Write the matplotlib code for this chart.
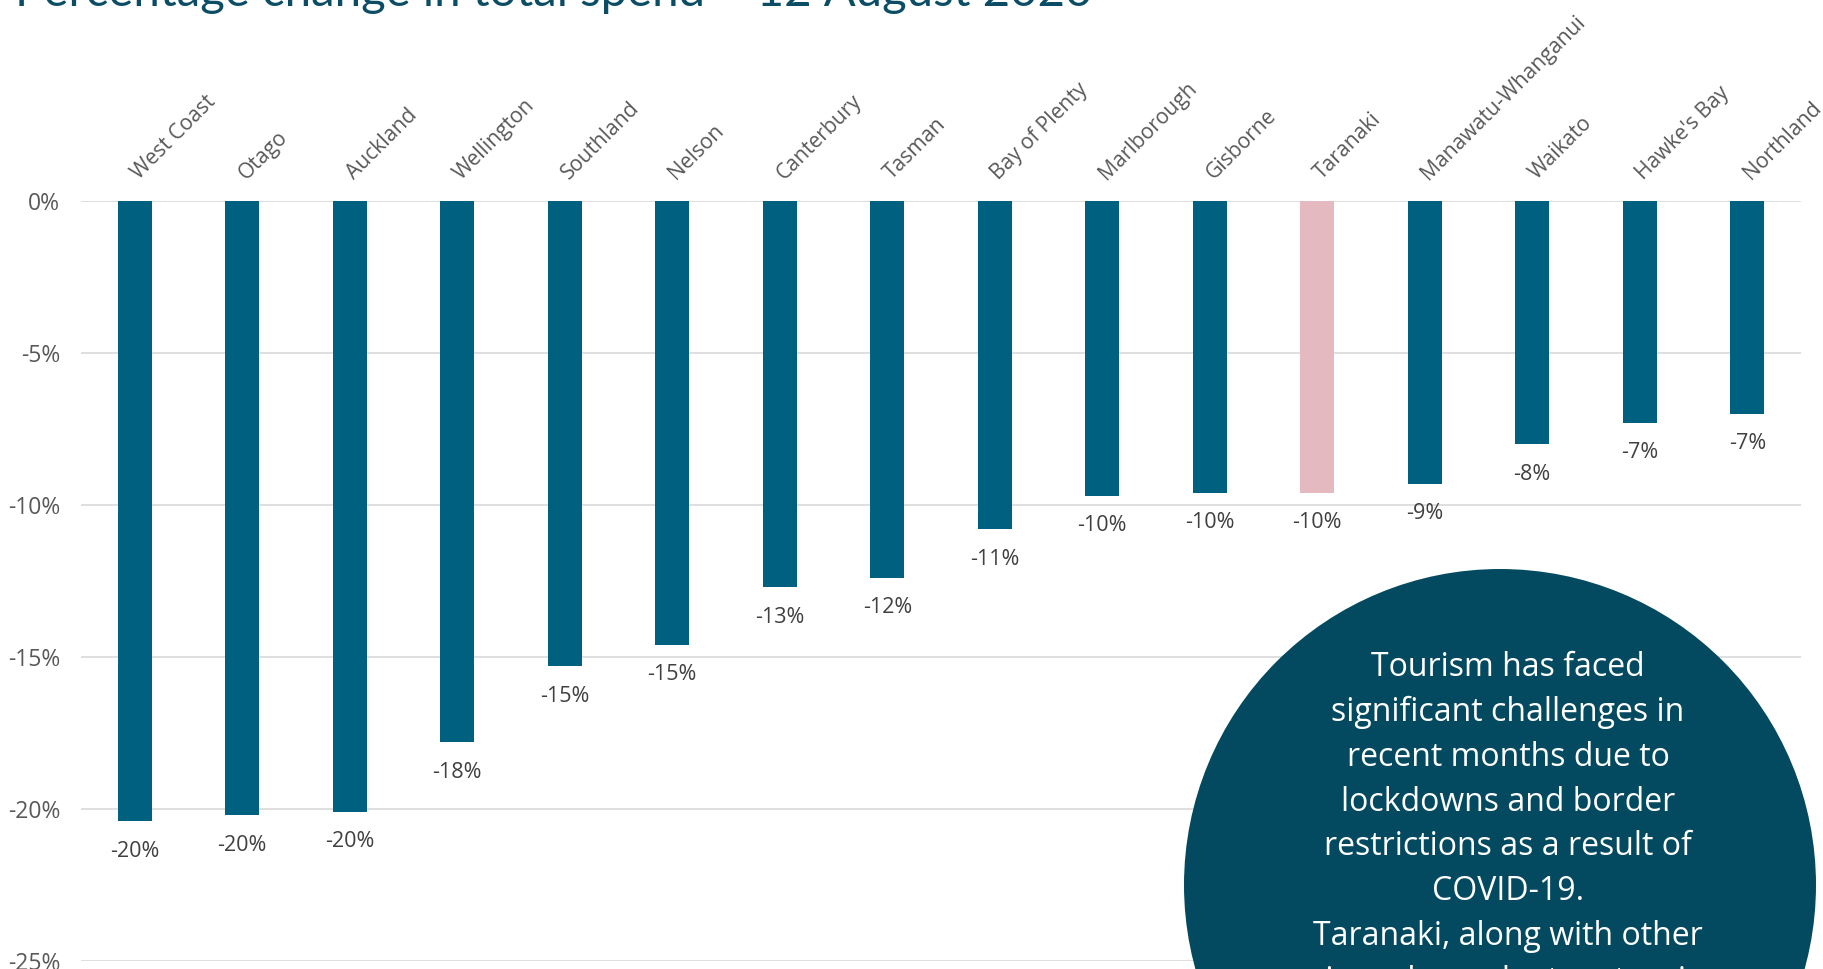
import matplotlib.pyplot as plt
from matplotlib.patches import Ellipse
import numpy as np

regions = ["West Coast", "Otago", "Auckland", "Wellington", "Southland", "Nelson",
           "Canterbury", "Tasman", "Bay of Plenty", "Marlborough", "Gisborne",
           "Taranaki", "Manawatu-Whanganui", "Waikato", "Hawke's Bay", "Northland"]
pct_change = [-20.4, -20.2, -20.1, -17.8, -15.3, -14.6, -12.7, -12.4, -10.8,
              -9.7, -9.6, -9.6, -9.3, -8.0, -7.3, -7.0]
highlight = "Taranaki"
yticks = [0, -5, -10, -15, -20, -25]

note = ("Tourism has faced\n"
        "significant challenges in\n"
        "recent months due to\n"
        "lockdowns and border\n"
        "restrictions as a result of\n"
        "COVID-19.\n"
        "Taranaki, along with other\n"
        "regions dependent on tourism,")

BAR = "#00607f"
PINK = "#e4b9bf"
DARK = "#034a60"

W, H = 1823, 969
fig = plt.figure(figsize=(W / 100, H / 100), dpi=100)
fig.patch.set_facecolor("white")
ax = fig.add_axes([81 / W, 8 / H, 1720 / W, 760 / H])

x = np.arange(len(regions))
colors = [PINK if r == highlight else BAR for r in regions]
ax.bar(x, pct_change, width=0.316, color=colors, zorder=3)

ax.set_xlim(-0.5, len(regions) - 0.5)
ax.set_ylim(-25, 0)
ax.set_yticks(yticks)
ax.set_yticklabels([f"{t}%" for t in yticks], fontsize=16.5, color="#595959",
                   family="Open Sans")
ax.tick_params(axis="y", length=0, pad=15)
ax.set_xticks([])
ax.grid(axis="y", color="#d9d9d9", linewidth=1.2, zorder=0)
for s in ax.spines.values():
    s.set_visible(False)

# region names sit above the zero line, tilted
for i, r in enumerate(regions):
    ax.annotate(r, (i, 0), xytext=(3, 15), textcoords="offset points",
                rotation=45, rotation_mode="anchor", ha="left", va="baseline",
                fontsize=15.2, color="#595959", family="Open Sans",
                annotation_clip=False)

# value labels below each bar
for i, v in enumerate(pct_change):
    ax.annotate(f"{v:.0f}%", (i, v), xytext=(0, -14), textcoords="offset points",
                ha="center", va="top", fontsize=15.5, color="#404040",
                family="Open Sans")

fig.text(15 / W, 1 - 6 / H, "Percentage change in total spend \u2013 12 August 2020",
         ha="left", va="baseline", fontsize=34, color="#0c4d66", family="Lato")

# callout bubble
r = 316
fig.patches.append(Ellipse((1500 / W, 1 - 885 / H), 2 * r / W, 2 * r / H,
                           transform=fig.transFigure, facecolor=DARK,
                           edgecolor="none", zorder=5))
fig.text(1508 / W, 1 - 651 / H, note, ha="center", va="top", fontsize=23,
         color="white", family="Open Sans", linespacing=1.47, zorder=6)

fig.savefig("out.png", dpi=100)
